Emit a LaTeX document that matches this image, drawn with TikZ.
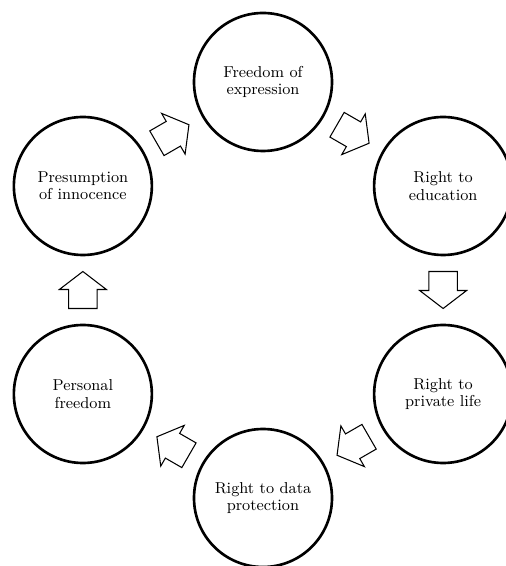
\documentclass[tikz,border=0pt]{standalone}

\tikzset{
  every right/.style={circle, draw, line width=1.5pt, minimum size=2.76cm,
    inner sep=0pt, align=center, font=\fontsize{9}{9.8}\selectfont},
  pics/blockarrow/.style={code={
    \draw [line width=0.6pt, fill=white, line join=miter]
      (-0.37,-0.285) -- (0.01,-0.285) -- (0.01,-0.47) -- (0.37,0)
      -- (0.01,0.47) -- (0.01,0.285) -- (-0.37,0.285) -- cycle;
  }}
}

\begin{document}
\begin{tikzpicture}
\useasboundingbox (-5.26,-5.52) rectangle (4.84,5.8);

\foreach \t/\a [count=\i] in {{Freedom of\\expression}/90, {Right to\\education}/30,
    {Right to\\private life}/-30, {Right to data\\protection}/-90,
    {Personal\\freedom}/-150, {Presumption\\of innocence}/150}
  \node [every right/.try] (right-\i) at (\a:4.16) {\t};

\foreach \i/\j in {1/2,2/3,3/4,4/5,5/6,6/1}
  \path (right-\i) -- (right-\j)
    pic [midway, sloped, allow upside down] {blockarrow};

\end{tikzpicture}
\end{document}
